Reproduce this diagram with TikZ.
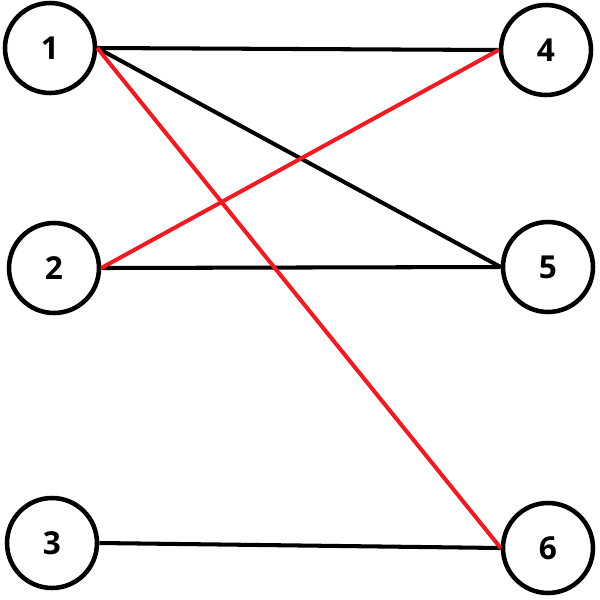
\documentclass[tikz,border=0pt]{standalone}
\usepackage{fontspec}
\setsansfont{Open Sans}
\usepackage{tikz}
\usepackage{xcolor}
\usetikzlibrary{positioning}
\definecolor{PaintRed}{HTML}{ED1C24}
\tikzset{
    vertex/.style={
        draw=black, circle, line width=2.6pt,
        minimum size=1.8cm, inner sep=0pt,
        font=\sffamily\bfseries\fontsize{18}{20}\selectfont
    },
    plainedge/.style={line width=2.3pt, black},
    matchedge/.style={line width=2.3pt, PaintRed},
}
\begin{document}
\begin{tikzpicture}[x=0.02cm, y=-0.02cm]
    \useasboundingbox (0,0) rectangle (600,600);

    % Left side
    \node[vertex] (n1) at (50,48) {1};
    \node[vertex] (n2) at (54,268) {2};
    \node[vertex] (n3) at (52,543) {3};

    % Right side
    \node[vertex] (n4) at (546,50) {4};
    \node[vertex] (n5) at (548,267) {5};
    \node[vertex] (n6) at (548,548) {6};

    % Edges
    \draw[plainedge] (n1.east) -- (n4.west);
    \draw[plainedge] (n1.east) -- (n5.west);
    \draw[plainedge] (n2.east) -- (n5.west);
    \draw[plainedge] (n3.east) -- (n6.west);

    % Matching
    \draw[matchedge] (n1.east) -- (n6.west);
    \draw[matchedge] (n2.east) -- (n4.west);
\end{tikzpicture}
\end{document}
